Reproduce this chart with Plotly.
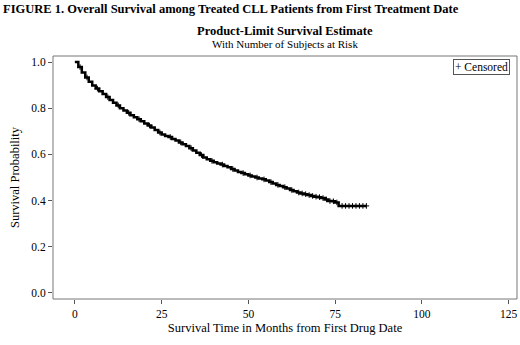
import plotly.graph_objects as go

# Kaplan-Meier estimate (months, survival probability)
months = list(range(0, 77)) + [84]
survival = [1.000, 0.978, 0.955, 0.933, 0.914, 0.898, 0.885, 0.873, 0.861,
            0.848, 0.836, 0.824, 0.812, 0.800, 0.790, 0.780, 0.770, 0.761,
            0.752, 0.743, 0.734, 0.725, 0.716, 0.706, 0.695, 0.686, 0.680,
            0.675, 0.667, 0.660, 0.652, 0.644, 0.636, 0.627, 0.617, 0.607,
            0.597, 0.587, 0.579, 0.572, 0.566, 0.561, 0.556, 0.550, 0.544,
            0.537, 0.530, 0.524, 0.519, 0.514, 0.509, 0.504, 0.500, 0.496,
            0.492, 0.487, 0.480, 0.474, 0.468, 0.463, 0.458, 0.452, 0.446,
            0.440, 0.435, 0.431, 0.428, 0.424, 0.420, 0.417, 0.415, 0.411,
            0.405, 0.398, 0.397, 0.392, 0.377, 0.377]
censor_times = [1.5, 3.5, 6.5, 9.5, 12.5, 15.5, 18.5, 21.5, 24.5, 27.5, 30.5,
                33.5, 36.5, 39.5, 42.5, 45.5, 48.5, 50.5, 52.5, 54.5, 56.5,
                58.5, 60.5, 62.5, 64.5, 65.5, 66.5, 67.5, 68.5, 69.5, 70.5,
                71.5, 72.5, 73.5, 74.5, 75.5, 77, 78, 79, 80, 81, 82, 83, 84]

x_ticks = [0, 25, 50, 75, 100, 125]
y_ticks = [0.0, 0.2, 0.4, 0.6, 0.8, 1.0]


def surv_at(t):
    s = survival[0]
    for tt, ss in zip(months, survival):
        if tt <= t:
            s = ss
    return s


censor_surv = [surv_at(t) for t in censor_times]

SERIF = "Liberation Serif, Times New Roman, serif"

fig = go.Figure()
fig.add_trace(go.Scatter(x=months, y=survival, mode="lines",
                         line=dict(color="black", width=2.5, shape="hv"),
                         showlegend=False, hoverinfo="skip"))
fig.add_trace(go.Scatter(x=censor_times, y=censor_surv, mode="markers",
                         name="Censored",
                         marker=dict(symbol="cross-thin", size=4,
                                     line=dict(color="black", width=1)),
                         showlegend=False))

fig.update_layout(
    width=520, height=345,
    margin=dict(l=53, r=3, t=56, b=46),
    paper_bgcolor="white", plot_bgcolor="white",
    font=dict(family=SERIF, color="black", size=11),
    showlegend=False,
    xaxis=dict(range=[-6.3, 127.4], tickvals=x_ticks,
               ticktext=[str(v) for v in x_ticks],
               ticks="outside", ticklen=4, tickcolor="#555",
               showgrid=False, zeroline=False, showline=False,
               tickfont=dict(size=11.5), automargin=False,
               title=dict(text="Survival Time in Months from First Drug Date",
                          font=dict(size=12.5), standoff=4)),
    yaxis=dict(range=[-0.026, 1.026], tickvals=y_ticks,
               ticktext=[f"{v:.1f}" for v in y_ticks],
               ticks="outside", ticklen=4, tickcolor="#555",
               showgrid=False, zeroline=False, showline=False,
               tickfont=dict(size=11.5), automargin=False,
               title=dict(text="Survival Probability",
                          font=dict(size=12.5), standoff=8)),
)

fig.add_shape(type="rect", xref="paper", yref="paper", x0=0, y0=0, x1=1, y1=1,
              line=dict(color="#777", width=1))

# legend box for censored marks
fig.add_annotation(text="+ Censored", xref="paper", yref="paper",
                   x=(481.5 - 53) / 464, y=(299 - 67) / 243,
                   xanchor="center", yanchor="middle", showarrow=False,
                   bordercolor="#555", borderwidth=1, borderpad=1,
                   bgcolor="white", font=dict(family=SERIF, size=11.5))

fig.add_annotation(text="<b>FIGURE 1. Overall Survival among Treated CLL Patients from First Treatment Date</b>",
                   xref="paper", yref="paper", x=-52 / 464, y=1 + 47 / 243,
                   xanchor="left", yanchor="middle", showarrow=False,
                   font=dict(family=SERIF, size=12.5))
fig.add_annotation(text="<b>Product-Limit Survival Estimate</b>",
                   xref="paper", yref="paper", x=0.5, y=1 + 25 / 243,
                   xanchor="center", yanchor="middle", showarrow=False,
                   font=dict(family=SERIF, size=12.5))
fig.add_annotation(text="With Number of Subjects at Risk",
                   xref="paper", yref="paper", x=0.5, y=1 + 12 / 243,
                   xanchor="center", yanchor="middle", showarrow=False,
                   font=dict(family=SERIF, size=11))

fig.write_html("out.html",
               config={"displayModeBar": False},
               post_script="document.body.style.margin='0';"
                           "document.body.style.overflow='hidden';")
